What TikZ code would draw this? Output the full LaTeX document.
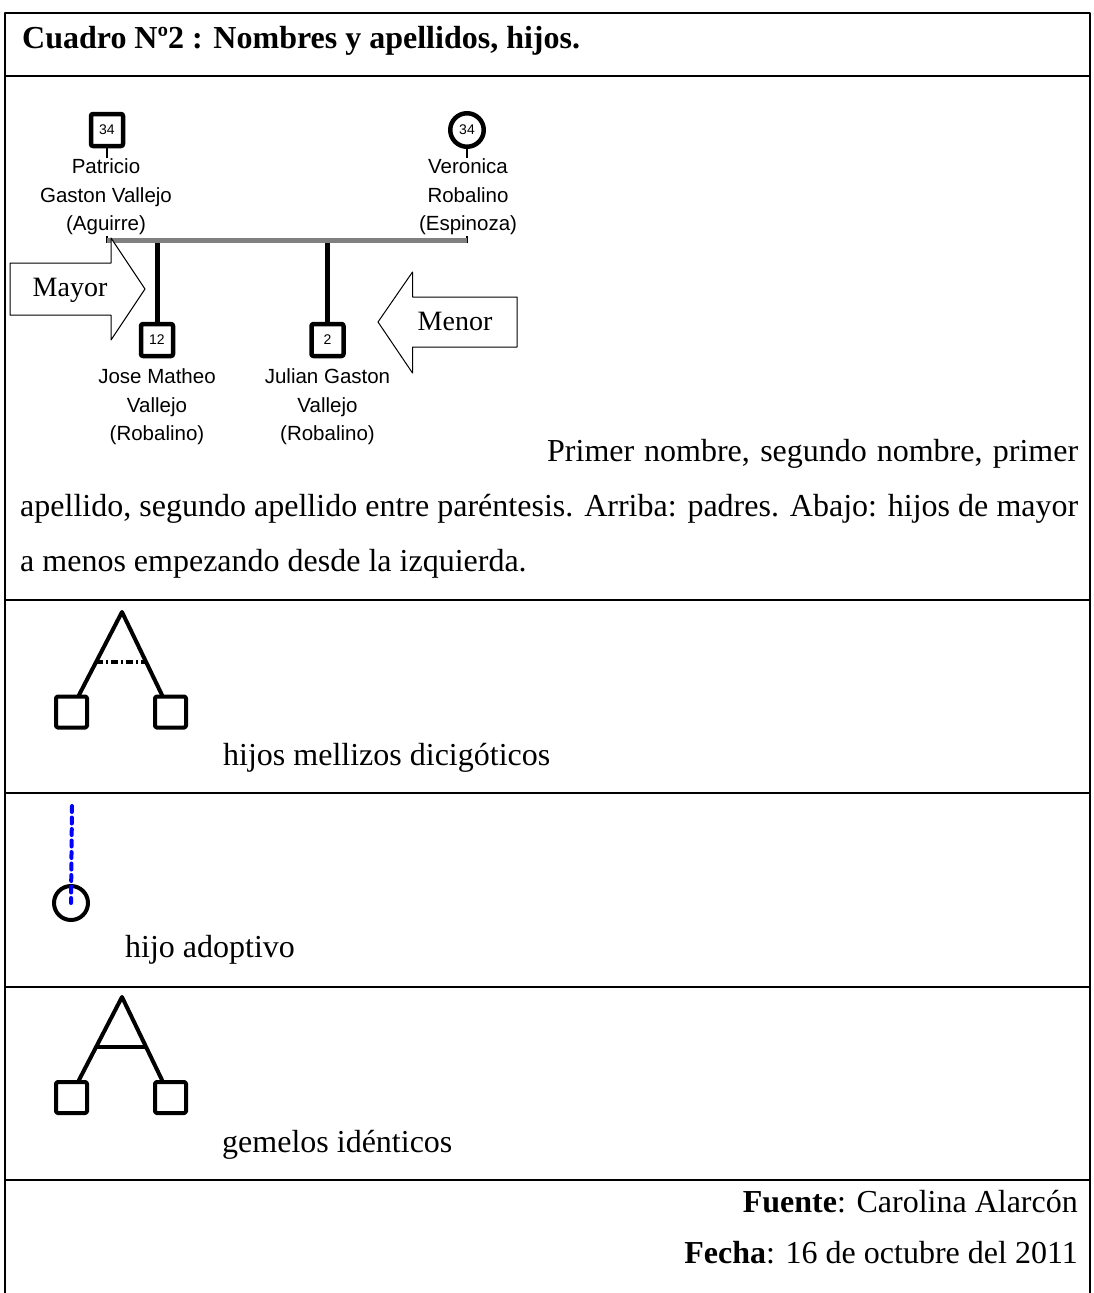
\documentclass[tikz,border=0pt]{standalone}
\usepackage{fontspec}
\setmainfont{Liberation Serif}
\newfontfamily\arialfont{Liberation Sans}
\usetikzlibrary{calc}

\begin{document}
\begin{tikzpicture}
    [x=1pt,y=-1pt,line join=round,
     every node/.style={inner sep=0pt},
     txt/.style={font=\fontsize{32}{37}\selectfont},
     male/.style={draw,line width=4.5pt,rounded corners=2pt,minimum size=32pt,font=\arialfont\fontsize{14}{14}\selectfont},
     female/.style={circle,draw,line width=4.5pt,minimum size=33.5pt,font=\arialfont\fontsize{14}{14}\selectfont},
     who/.style={fill=white,align=center,inner sep=1pt,font=\arialfont\fontsize{20.5}{28.5}\selectfont},
     kid/.style={line width=5pt},
     bigarrow/.style={draw,line width=1pt,fill=white},
     twinbox/.style={draw,line width=4pt,rounded corners=1.5pt,minimum size=31pt},
     leg/.style={line width=4pt,line cap=round},
     adopt/.style={blue,line width=4pt,line cap=round,dash pattern=on 6pt off 5.5pt}]
    \useasboundingbox (0,0) rectangle (1094,1293);

    % table
    \draw[line width=2pt] (5,1293) -- (5,13) -- (1090,13) -- (1090,1293);
    \foreach \y in {76,600,793,987,1180}
    \draw[line width=2pt] (5,\y) -- (1090,\y);

    \node[txt,anchor=base west] (title) at (22,48) {\bfseries Cuadro Nº2 : Nombres y apellidos, hijos.};

    % family
    \node[male]   (pat)  at (107,130) {34};
    \node[female] (ver)  at (467,130) {34};
    \node[male]   (jose) at (157,340) {12};
    \node[male]   (jul)  at (327.5,340) {2};
    \coordinate (mL) at (107,240);
    \coordinate (mR) at (467,240);

    \foreach \from/\to in {pat/mL,ver/mR}
    \draw[line width=2.5pt] (\from) -- ($(\to)+(0,3)$);
    \foreach \k in {jose,jul} \draw[kid] (\k) -- (\k |- mL);

    \node[who] (patn)  at (106,197)   {Patricio\\Gaston Vallejo\\(Aguirre)};
    \node[who] (vern)  at (468,197)   {Veronica\\Robalino\\(Espinoza)};
    \node[who] (josen) at (157,407)   {Jose Matheo\\Vallejo\\(Robalino)};
    \node[who] (juln)  at (327.5,407) {Julian Gaston\\Vallejo\\(Robalino)};

    \draw[gray,line width=5pt] (mL) -- (mR);

    \draw[bigarrow] (10,263) -- (111,263) -- (111,238) -- (145,289) -- (111,340) -- (111,315) -- (10,315) -- cycle;
    \draw[bigarrow] (517,297) -- (412.5,297) -- (412.5,272) -- (378,322) -- (412.5,373) -- (412.5,347) -- (517,347) -- cycle;
    \node[font=\fontsize{28}{28}\selectfont] (mayor) at (70,290) {Mayor};
    \node[font=\fontsize{28}{28}\selectfont] (menor) at (455,321) {Menor};

    \node[txt,anchor=base west] (par1) at (547,461)
        {\makebox[531pt][s]{Primer nombre, segundo nombre, primer}};
    \node[txt,anchor=base west] (par2) at (20,516)
        {\makebox[1058pt][s]{apellido, segundo apellido entre paréntesis. Arriba: padres. Abajo: hijos de mayor}};
    \node[txt,anchor=base west] (par3) at (20,571) {a menos empezando desde la izquierda.};

    % mellizos
    \node[twinbox] (dz1) at (71.5,712) {};
    \node[twinbox] (dz2) at (170.5,712) {};
    \coordinate (dztop) at (122,612);
    \coordinate (dzl) at (79,695);
    \coordinate (dzr) at (162,695);
    \draw[leg] (dzl) -- (dztop) -- (dzr);
    \draw[line width=4pt,dash pattern=on 7pt off 3pt on 2pt off 3pt]
        ($(dztop)!.6!(dzl)$) -- ($(dztop)!.6!(dzr)$);
    \node[txt,anchor=base west] (dztxt) at (223,765) {hijos mellizos dicigóticos};

    % adoptivo
    \node[circle,draw,line width=4pt,minimum size=34pt] (adop) at (71,903) {};
    \coordinate (adtop) at (72,806);
    \draw[adopt] (adtop) -- (adop.center);
    \node[txt,anchor=base west] (adtxt) at (125,957) {hijo adoptivo};

    % gemelos
    \node[twinbox] (mz1) at (71.5,1097.5) {};
    \node[twinbox] (mz2) at (170.5,1097.5) {};
    \coordinate (mztop) at (122,997);
    \coordinate (mzl) at (79,1080);
    \coordinate (mzr) at (162,1080);
    \draw[leg] (mzl) -- (mztop) -- (mzr);
    \draw[line width=4pt] ($(mztop)!.6!(mzl)$) -- ($(mztop)!.6!(mzr)$);
    \node[txt,anchor=base west] (mztxt) at (222,1152) {gemelos idénticos};

    \node[txt,anchor=base east] (fuente) at (1078,1212) {\textbf{Fuente}: Carolina Alarcón};
    \node[txt,anchor=base east] (fecha)  at (1078,1263) {\textbf{Fecha}: 16 de octubre del 2011};
\end{tikzpicture}
\end{document}
